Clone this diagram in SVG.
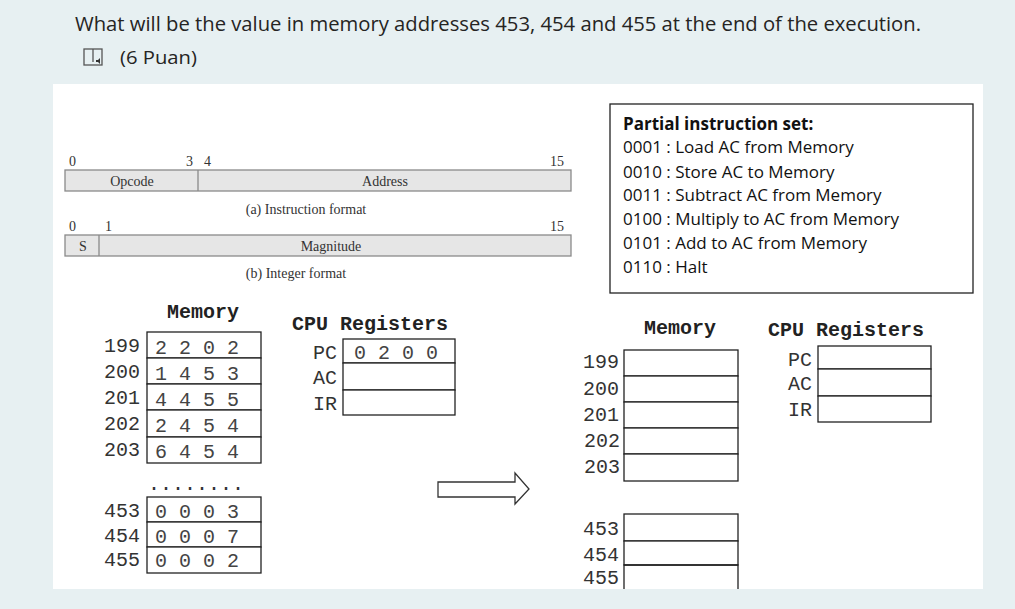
<svg xmlns="http://www.w3.org/2000/svg" width="1015" height="609" viewBox="0 0 1015 609">
<style>
.hdr{font-family:"Open Sans","Noto Sans",sans-serif;fill:#252423}
.ser{font-family:"Liberation Serif",serif;font-size:14px;fill:#333}
.bar{fill:#e6e6e6;stroke:#8a8a8a;stroke-width:1.3}
.cal{font-family:"Open Sans","Noto Sans",sans-serif;font-size:17px;fill:#111}
.mono{font-family:"Courier New","Liberation Mono",monospace;font-size:20px;fill:#333}
.monob{font-family:"Courier New","Liberation Mono",monospace;font-size:20px;font-weight:bold;fill:#222}
.cell{fill:#fff;stroke:#222;stroke-width:1.3}
.val{font-family:"Courier New","Liberation Mono",monospace;font-size:20px;fill:#444}
</style>
<rect width="1015" height="609" fill="#e7f0f2"/>
<g id="header">
<text class="hdr" x="75" y="31" font-size="20" textLength="846" lengthAdjust="spacingAndGlyphs">What will be the value in memory addresses 453, 454  and 455 at the end of the execution.</text>
<g id="icon" fill="none" stroke="#555" stroke-width="1.3">
<rect x="84" y="49" width="18" height="16"/>
<line x1="93" y1="49" x2="93" y2="62"/>
</g>
<path d="M96 60 h2 l2 -2 v6 l-2 -2 h-2z" fill="#333"/>
<text class="hdr" x="120" y="64" font-size="19" textLength="77" lengthAdjust="spacingAndGlyphs">(6 Puan)</text>
</g>
<rect x="53" y="84" width="930" height="505" fill="#fff"/>
<g id="instruction-format">
<rect class="bar" x="65" y="170" width="506" height="21"/>
<line x1="198" y1="170" x2="198" y2="191" stroke="#8a8a8a" stroke-width="1.3"/>
<text class="ser" x="69" y="166">0</text>
<text class="ser" x="186" y="166">3</text>
<text class="ser" x="204" y="166">4</text>
<text class="ser" x="550" y="166">15</text>
<text class="ser" x="132" y="186" text-anchor="middle">Opcode</text>
<text class="ser" x="385" y="186" text-anchor="middle">Address</text>
<text class="ser" x="306" y="214" text-anchor="middle">(a) Instruction format</text>
</g>
<g id="integer-format">
<rect class="bar" x="65" y="235" width="506" height="21"/>
<line x1="99" y1="235" x2="99" y2="256" stroke="#8a8a8a" stroke-width="1.3"/>
<text class="ser" x="69" y="231">0</text>
<text class="ser" x="105" y="231">1</text>
<text class="ser" x="550" y="231">15</text>
<text class="ser" x="83" y="251" text-anchor="middle">S</text>
<text class="ser" x="331" y="251" text-anchor="middle">Magnitude</text>
<text class="ser" x="296" y="278" text-anchor="middle">(b) Integer format</text>
</g>
<g id="instruction-set">
<rect x="610" y="104" width="363" height="189" fill="#fff" stroke="#222" stroke-width="1.3"/>
<text class="cal" x="623" y="130" font-size="16" font-weight="bold">Partial instruction set:</text>
<text class="cal" x="623" y="153">0001 : Load AC from Memory</text>
<text class="cal" x="623" y="178">0010 : Store AC to Memory</text>
<text class="cal" x="623" y="201">0011 : Subtract AC from Memory</text>
<text class="cal" x="623" y="225">0100 : Multiply to AC from Memory</text>
<text class="cal" x="623" y="249">0101 : Add to AC from Memory</text>
<text class="cal" x="623" y="273">0110 : Halt</text>
</g>
<g id="memory-before">
<text class="monob" x="203" y="318" text-anchor="middle">Memory</text>
<rect class="cell" x="147" y="332" width="114" height="26"/>
<rect class="cell" x="147" y="358" width="114" height="26"/>
<rect class="cell" x="147" y="384" width="114" height="26"/>
<rect class="cell" x="147" y="410" width="114" height="27"/>
<rect class="cell" x="147" y="437" width="114" height="26"/>
<text class="mono" x="140" y="352" text-anchor="end">199</text>
<text class="mono" x="140" y="378" text-anchor="end">200</text>
<text class="mono" x="140" y="404" text-anchor="end">201</text>
<text class="mono" x="140" y="430" text-anchor="end">202</text>
<text class="mono" x="140" y="456" text-anchor="end">203</text>
<text class="val" x="155" y="354" xml:space="preserve">2 2 0 2</text>
<text class="val" x="155" y="380" xml:space="preserve">1 4 5 3</text>
<text class="val" x="155" y="406" xml:space="preserve">4 4 5 5</text>
<text class="val" x="155" y="432" xml:space="preserve">2 4 5 4</text>
<text class="val" x="155" y="458" xml:space="preserve">6 4 5 4</text>
<text class="mono" x="148" y="490">........</text>
<rect class="cell" x="147" y="497" width="114" height="25"/>
<rect class="cell" x="147" y="522" width="114" height="25"/>
<rect class="cell" x="147" y="547" width="114" height="26"/>
<text class="mono" x="140" y="517" text-anchor="end">453</text>
<text class="mono" x="140" y="542" text-anchor="end">454</text>
<text class="mono" x="140" y="566" text-anchor="end">455</text>
<text class="val" x="155" y="518" xml:space="preserve">0 0 0 3</text>
<text class="val" x="155" y="543" xml:space="preserve">0 0 0 7</text>
<text class="val" x="155" y="567" xml:space="preserve">0 0 0 2</text>
</g>
<g id="registers-before">
<text class="monob" x="370" y="330" text-anchor="middle">CPU Registers</text>
<rect class="cell" x="343" y="339" width="112" height="24"/>
<rect class="cell" x="343" y="363" width="112" height="27"/>
<rect class="cell" x="343" y="390" width="112" height="25"/>
<text class="mono" x="337" y="359" text-anchor="end">PC</text>
<text class="mono" x="337" y="384" text-anchor="end">AC</text>
<text class="mono" x="337" y="410" text-anchor="end">IR</text>
<text class="val" x="354" y="359" xml:space="preserve">0 2 0 0</text>
</g>
<g id="connectors">
<path d="M438 482 H515 V473 L529 489 L515 504 V497 H438 Z" fill="#fff" stroke="#333" stroke-width="1.3"/>
</g>
<g id="memory-after">
<text class="monob" x="680" y="334" text-anchor="middle">Memory</text>
<rect class="cell" x="624" y="350" width="114" height="26"/>
<rect class="cell" x="624" y="376" width="114" height="26"/>
<rect class="cell" x="624" y="402" width="114" height="26"/>
<rect class="cell" x="624" y="428" width="114" height="26"/>
<rect class="cell" x="624" y="454" width="114" height="27"/>
<text class="mono" x="619" y="368" text-anchor="end">199</text>
<text class="mono" x="619" y="395" text-anchor="end">200</text>
<text class="mono" x="619" y="421" text-anchor="end">201</text>
<text class="mono" x="620" y="447" text-anchor="end">202</text>
<text class="mono" x="620" y="473" text-anchor="end">203</text>
<rect class="cell" x="624" y="514" width="114" height="27"/>
<rect class="cell" x="624" y="541" width="114" height="24"/>
<path d="M624 589 V565 H738 V589" fill="none" stroke="#222" stroke-width="1.3"/>
<text class="mono" x="619" y="535" text-anchor="end">453</text>
<text class="mono" x="619" y="561" text-anchor="end">454</text>
<text class="mono" x="619" y="584" text-anchor="end">455</text>
</g>
<g id="registers-after">
<text class="monob" x="846" y="336" text-anchor="middle">CPU Registers</text>
<rect class="cell" x="818" y="346" width="113" height="23"/>
<rect class="cell" x="818" y="369" width="113" height="27"/>
<rect class="cell" x="818" y="396" width="113" height="26"/>
<text class="mono" x="812" y="366" text-anchor="end">PC</text>
<text class="mono" x="812" y="390" text-anchor="end">AC</text>
<text class="mono" x="812" y="416" text-anchor="end">IR</text>
</g>
<rect x="0" y="589" width="1015" height="20" fill="#e7f0f2"/>
</svg>
